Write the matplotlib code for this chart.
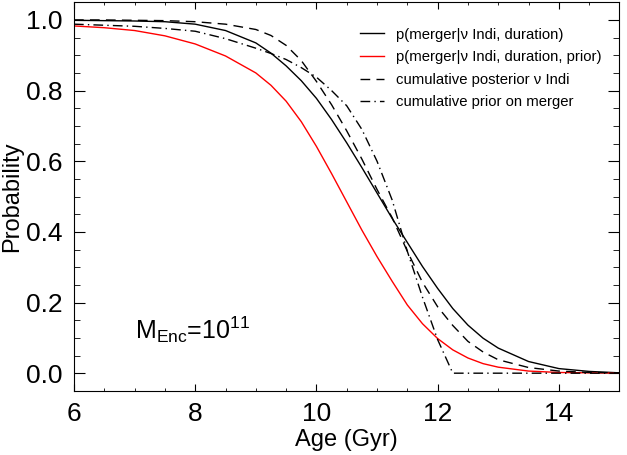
import numpy as np
import matplotlib
matplotlib.use("Agg")
import matplotlib.pyplot as plt
from matplotlib.ticker import MultipleLocator

plt.rcParams['font.family'] = ['Liberation Sans', 'DejaVu Sans']
plt.rcParams['mathtext.fontset'] = 'custom'
plt.rcParams['mathtext.rm'] = 'Liberation Sans'

# age grid (Gyr) and values
age = [6.0, 6.5, 7.0, 7.5, 8.0, 8.5, 9.0, 9.25, 9.5, 9.75, 10.0, 10.25, 10.5, 10.75,
       11.0, 11.25, 11.5, 11.75, 12.0, 12.25, 12.5, 12.75, 13.0, 13.5, 14.0, 14.5, 15.0]
p_dur = [0.999, 0.998, 0.997, 0.995, 0.988, 0.970, 0.935, 0.906, 0.870, 0.828, 0.778,
         0.718, 0.652, 0.582, 0.510, 0.438, 0.370, 0.302, 0.240, 0.183, 0.136, 0.099,
         0.071, 0.033, 0.013, 0.005, 0.001]
p_prior = [0.983, 0.978, 0.970, 0.955, 0.932, 0.898, 0.850, 0.815, 0.770, 0.712, 0.642,
           0.565, 0.485, 0.405, 0.330, 0.260, 0.193, 0.140, 0.098, 0.066, 0.043, 0.027,
           0.017, 0.006, 0.002, 0.001, 0.000]
cum_post = [1.000, 1.000, 0.999, 0.998, 0.995, 0.988, 0.973, 0.956, 0.928, 0.885, 0.826,
            0.760, 0.686, 0.606, 0.520, 0.440, 0.345, 0.257, 0.188, 0.135, 0.090, 0.060,
            0.038, 0.016, 0.006, 0.002, 0.001]
cum_prior = [0.988, 0.985, 0.982, 0.976, 0.968, 0.947, 0.920, 0.905, 0.888, 0.865, 0.838,
             0.800, 0.757, 0.690, 0.600, 0.490, 0.345, 0.215, 0.095, 0.000, 0.000, 0.000,
             0.000, 0.000, 0.000, 0.000, 0.000]

labels = ['p(merger|\u03bd Indi, duration)',
          'p(merger|\u03bd Indi, duration, prior)',
          'cumulative posterior \u03bd Indi',
          'cumulative prior on merger']

fig = plt.figure(figsize=(6.27, 4.55), dpi=100)
ax = fig.add_axes([0.118, 0.141, 0.870, 0.854])

ax.plot(age, p_dur, color='black', lw=1.0, label=labels[0])
ax.plot(age, p_prior, color='red', lw=1.0, label=labels[1])
ax.plot(age, cum_post, color='black', lw=1.0, dashes=(7, 4.5), label=labels[2])
ax.plot(age, cum_prior, color='black', lw=1.0, dashes=(7, 3, 1, 3), label=labels[3])

ax.set_xlim(6, 15)
ax.set_ylim(-0.05, 1.05)
ax.xaxis.set_major_locator(MultipleLocator(2))
ax.xaxis.set_minor_locator(MultipleLocator(0.5))
ax.yaxis.set_major_locator(MultipleLocator(0.2))
ax.yaxis.set_minor_locator(MultipleLocator(0.05))
ax.yaxis.set_major_formatter(lambda v, p: f'{v:.1f}')

ax.tick_params(which='both', direction='in', top=True, right=True, labelsize=19)
ax.tick_params(axis='x', which='major', length=5, pad=8)
ax.tick_params(axis='x', which='minor', length=2.5)
ax.tick_params(axis='y', which='major', length=8, pad=8)
ax.tick_params(axis='y', which='minor', length=4)

ax.set_xlabel('Age (Gyr)', fontsize=17, labelpad=2)
ax.set_ylabel('Probability', fontsize=17, labelpad=2)

ax.text(7.0, 0.096, r'M$_{\mathregular{Enc}}$=10$^{\mathregular{11}}$', fontsize=18,
        ha='left', va='baseline')

ax.legend(loc='upper left', bbox_to_anchor=(0.525, 0.935), frameon=False, fontsize=10.7,
          handlelength=1.6, handletextpad=0.8, labelspacing=0.58, borderpad=0, borderaxespad=0)

fig.savefig('out.png', dpi=100)
